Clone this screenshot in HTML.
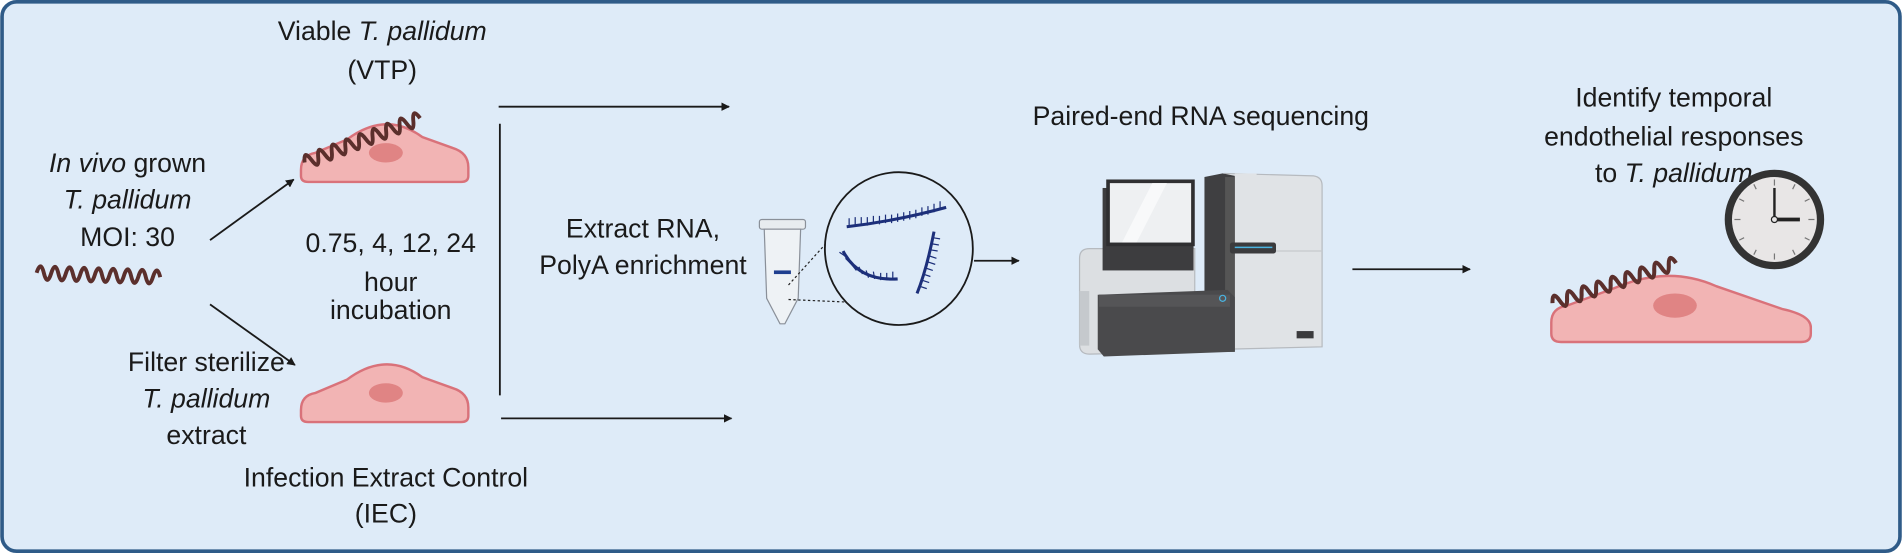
<!DOCTYPE html>
<html><head><meta charset="utf-8"><style>
html,body{margin:0;padding:0;width:1902px;height:553px;overflow:hidden;background:#fff}
svg{display:block}
text{font-family:"Liberation Sans",sans-serif;font-size:22px;fill:#1a1a1a}
</style></head><body>
<svg width="1902" height="553" viewBox="0 0 1568 456" xmlns="http://www.w3.org/2000/svg">
<defs>
<path id="spiro" d="M0 0 q3 -11 6 0 t6 0 t6 0 t6 0 t6 0 t6 0 t6 0 t6 0 t6 0 t6 0 t6 0 t6 0 t6 0 t6 0 t6 0 t6 0 t6 0" fill="none" stroke="#5b2f2c" stroke-width="3.2" stroke-linejoin="round"/>
<g id="cell">
<path d="M0,45 Q0,33 12,31 L38,20 Q70,-4 100,18 L125,27 Q138,31 138,43 L138,50 Q138,55 132,55 L6,55 Q0,55 0,50 Z" fill="#f2b4b4" stroke="#d9727a" stroke-width="2"/>
<ellipse cx="70" cy="31" rx="14" ry="8" fill="#e08484"/>
</g>
<marker id="ah" viewBox="0 0 10 10" refX="9" refY="5" markerWidth="7" markerHeight="7" orient="auto" markerUnits="userSpaceOnUse"><path d="M0,0 L10,5 L0,10 Z" fill="#1a1a1a"/></marker>
</defs>
<rect x="1.5" y="1.5" width="1565" height="453" rx="12" fill="#deebf8" stroke="#2f5b88" stroke-width="3"/>

<text x="315" y="33" text-anchor="middle">Viable <tspan font-style="italic">T. pallidum</tspan></text>
<text x="315" y="65" text-anchor="middle">(VTP)</text>
<use href="#cell" x="248" y="95"/>
<use href="#spiro" transform="translate(251,134) rotate(-21)"/>

<text x="105" y="142" text-anchor="middle"><tspan font-style="italic">In vivo</tspan> grown</text>
<text x="105" y="172" text-anchor="middle" font-style="italic">T. pallidum</text>
<text x="105" y="203" text-anchor="middle">MOI: 30</text>
<use href="#spiro" transform="translate(30,225) rotate(2)"/>

<line x1="173" y1="198" x2="242" y2="148" stroke="#1a1a1a" stroke-width="1.5" marker-end="url(#ah)"/>
<line x1="173" y1="251" x2="243" y2="301" stroke="#1a1a1a" stroke-width="1.5" marker-end="url(#ah)"/>

<text x="322" y="208" text-anchor="middle">0.75, 4, 12, 24</text>
<text x="322" y="240" text-anchor="middle">hour</text>
<text x="322" y="263" text-anchor="middle">incubation</text>

<use href="#cell" x="248" y="293"/>
<text x="170" y="306" text-anchor="middle">Filter sterilize</text>
<text x="170" y="336" text-anchor="middle" font-style="italic">T. pallidum</text>
<text x="170" y="366" text-anchor="middle">extract</text>
<text x="318" y="401" text-anchor="middle">Infection Extract Control</text>
<text x="318" y="431" text-anchor="middle">(IEC)</text>

<line x1="412" y1="102" x2="412" y2="326" stroke="#1a1a1a" stroke-width="1.5"/>
<line x1="411" y1="88" x2="601" y2="88" stroke="#1a1a1a" stroke-width="1.5" marker-end="url(#ah)"/>
<line x1="413" y1="345" x2="603" y2="345" stroke="#1a1a1a" stroke-width="1.5" marker-end="url(#ah)"/>

<text x="530" y="196" text-anchor="middle">Extract RNA,</text>
<text x="530" y="226" text-anchor="middle">PolyA enrichment</text>

<!-- tube -->
<rect x="626" y="181" width="38" height="8" rx="2" fill="#e8ecef" stroke="#8a9099" stroke-width="1"/>
<path d="M630,189 L660,189 L658,246 L647,267 L643,267 L632,246 Z" fill="#eef2f5" stroke="#8a9099" stroke-width="1"/>
<rect x="638" y="223" width="14" height="3" fill="#1f3f8f"/>
<line x1="650" y1="235" x2="716" y2="162" stroke="#222" stroke-width="1" stroke-dasharray="2,2"/>
<line x1="650" y1="247" x2="720" y2="250" stroke="#222" stroke-width="1" stroke-dasharray="2,2"/>
<ellipse cx="741" cy="205" rx="61" ry="63" fill="#deebf8" stroke="#1a1a1a" stroke-width="1.5"/>
<g fill="none" stroke="#1c2f7a" stroke-width="2.5">
<path d="M698,187 Q740,182 780,171"/>
<path d="M695,207 Q708,232 740,230"/>
<path d="M770,191 Q764,222 756,242"/>
</g>
<g stroke="#1c2f7a" stroke-width="1" fill="none">
<path d="M700,187v-7M705,186v-7M710,186v-7M715,186v-7M720,185v-7M725,185v-7M730,184v-7M735,184v-7M740,183v-7M745,182v-7M750,181v-7M755,180v-7M760,178v-7M765,177v-7M770,175v-7M775,173v-7"/>
<path d="M698,212l-6,-4M702,218l-5,-5M706,223l-4,-5M711,226l-3,-6M716,229l-2,-6M721,230l-1,-6M726,231v-6M731,231v-6M736,230v-6"/>
<path d="M769,196l6,1M768,201l6,1M767,206l6,1M766,211l6,2M765,216l6,2M763,221l6,2M761,226l6,2M760,231l6,2M758,236l6,2"/>
</g>

<line x1="803" y1="215" x2="840" y2="215" stroke="#1a1a1a" stroke-width="1.5" marker-end="url(#ah)"/>

<text x="990" y="103" text-anchor="middle">Paired-end RNA sequencing</text>
<!-- sequencer -->
<path d="M890,213 Q890,205 898,205 L985,205 L985,290 L898,292 Q890,292 890,284 Z" fill="#dcdfe2" stroke="#b6babf" stroke-width="1"/>
<rect x="890" y="240" width="8" height="45" fill="#c5c9cd"/>
<path d="M1010,143 L1083,145 Q1090,146 1090,153 L1090,286 L1010,288 Z" fill="#e0e3e6" stroke="#b6babf" stroke-width="1"/>
<line x1="1010" y1="207" x2="1090" y2="207" stroke="#c5c9cd" stroke-width="1"/>
<rect x="1018" y="143" width="18" height="26" fill="#e0e3e6"/>
<path d="M993,146 L1008,143 L1018,145 L1018,290 L1003,290 L993,288 Z" fill="#3f3f41"/>
<rect x="1010" y="146" width="8" height="144" fill="#555"/>
<rect x="909" y="155" width="75" height="68" fill="#3d3d3f"/>
<rect x="912" y="148" width="73" height="55" fill="#2f2f31"/>
<rect x="915" y="151" width="67" height="49" fill="#eef0f2"/>
<path d="M925,200 L950,151 L962,151 L937,200 Z" fill="#f8f9fa"/>
<rect x="1014" y="200" width="38" height="9" rx="2" fill="#3b3b3d"/>
<line x1="1018" y1="204" x2="1049" y2="204" stroke="#4ab3e0" stroke-width="1.2"/>
<path d="M905,243 L1012,239 L1018,245 L1018,290 L910,294 L905,288 Z" fill="#4a4a4c"/>
<rect x="906" y="243" width="108" height="10" fill="#555557"/>
<circle cx="1008" cy="246" r="2.5" fill="none" stroke="#4ab3e0" stroke-width="1"/>
<rect x="1069" y="273" width="14" height="6" fill="#3b3b3d"/>

<line x1="1115" y1="222" x2="1212" y2="222" stroke="#1a1a1a" stroke-width="1.5" marker-end="url(#ah)"/>

<text x="1380" y="88" text-anchor="middle">Identify temporal</text>
<text x="1380" y="120" text-anchor="middle">endothelial responses</text>
<text x="1380" y="150" text-anchor="middle">to <tspan font-style="italic">T. pallidum</tspan></text>

<circle cx="1463" cy="181" r="38" fill="#e8e6e6" stroke="#333" stroke-width="6"/>
<g stroke="#777" stroke-width="1">
<line x1="1463" y1="148" x2="1463" y2="153"/><line x1="1463" y1="209" x2="1463" y2="214"/>
<line x1="1430" y1="181" x2="1435" y2="181"/><line x1="1491" y1="181" x2="1496" y2="181"/>
<line x1="1446" y1="152" x2="1448" y2="156"/><line x1="1480" y1="152" x2="1478" y2="156"/>
<line x1="1446" y1="210" x2="1448" y2="206"/><line x1="1480" y1="210" x2="1478" y2="206"/>
<line x1="1434" y1="164" x2="1438" y2="166"/><line x1="1492" y1="164" x2="1488" y2="166"/>
<line x1="1434" y1="198" x2="1438" y2="196"/><line x1="1492" y1="198" x2="1488" y2="196"/>
</g>
<line x1="1463" y1="181" x2="1463" y2="155" stroke="#222" stroke-width="2"/>
<line x1="1463" y1="181" x2="1484" y2="181" stroke="#222" stroke-width="3"/>
<circle cx="1463" cy="181" r="2.5" fill="#e8e6e6" stroke="#222" stroke-width="1"/>

<path d="M1279,266 Q1279,254 1292,252 L1330,238 Q1375,218 1415,236 L1470,255 Q1493,260 1493,270 L1493,275 Q1493,282 1485,282 L1287,282 Q1279,282 1279,275 Z" fill="#f2b4b4" stroke="#d9727a" stroke-width="2"/>
<ellipse cx="1381" cy="252" rx="18" ry="10" fill="#e08484"/>
<use href="#spiro" transform="translate(1280,250) rotate(-18) scale(1.05,1)"/>
</svg>
</body></html>
